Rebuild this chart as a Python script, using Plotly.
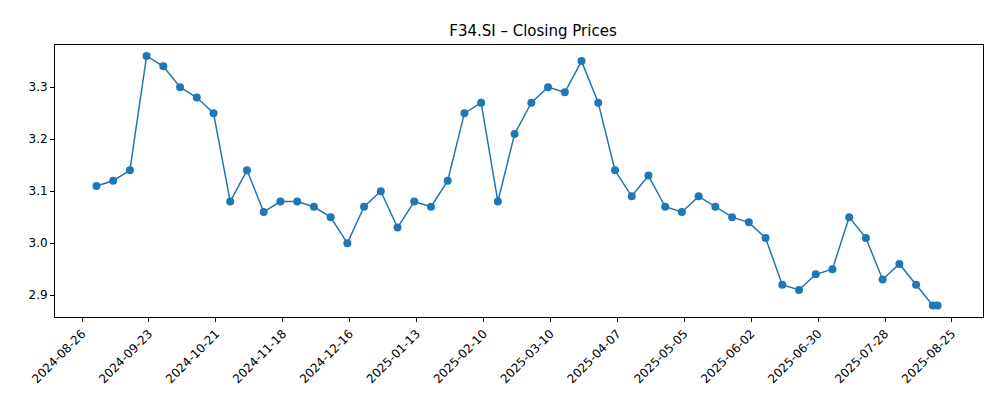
import plotly.graph_objects as go

dates = ["2024-09-01","2024-09-08","2024-09-15","2024-09-22","2024-09-29","2024-10-06","2024-10-13","2024-10-20",
"2024-10-27","2024-11-03","2024-11-10","2024-11-17","2024-11-24","2024-12-01","2024-12-08","2024-12-15",
"2024-12-22","2024-12-29","2025-01-05","2025-01-12","2025-01-19","2025-01-26","2025-02-02","2025-02-09",
"2025-02-16","2025-02-23","2025-03-02","2025-03-09","2025-03-16","2025-03-23","2025-03-30","2025-04-06",
"2025-04-13","2025-04-20","2025-04-27","2025-05-04","2025-05-11","2025-05-18","2025-05-25","2025-06-01",
"2025-06-08","2025-06-15","2025-06-22","2025-06-29","2025-07-06","2025-07-13","2025-07-20","2025-07-27",
"2025-08-03","2025-08-10","2025-08-17","2025-08-19"]
closes = [3.11,3.12,3.14,3.36,3.34,3.30,3.28,3.25,3.08,3.14,3.06,3.08,3.08,3.07,3.05,3.00,
3.07,3.10,3.03,3.08,3.07,3.12,3.25,3.27,3.08,3.21,3.27,3.30,3.29,3.35,3.27,3.14,
3.09,3.13,3.07,3.06,3.09,3.07,3.05,3.04,3.01,2.92,2.91,2.94,2.95,3.05,3.01,2.93,
2.96,2.92,2.88,2.88]
tick_dates = ["2024-08-26","2024-09-23","2024-10-21","2024-11-18","2024-12-16","2025-01-13","2025-02-10",
"2025-03-10","2025-04-07","2025-05-05","2025-06-02","2025-06-30","2025-07-28","2025-08-25"]
yticks = [2.9,3.0,3.1,3.2,3.3]

fig = go.Figure(go.Scatter(x=dates, y=closes, mode="lines+markers",
    line=dict(color="#1f77b4", width=1.5), marker=dict(color="#1f77b4", size=8)))
ax = dict(showgrid=False, showline=True, mirror=True, linecolor="black", linewidth=1,
          ticks="outside", ticklen=4, tickcolor="black", zeroline=False, automargin=False)
fig.update_layout(width=1000, height=400, plot_bgcolor="white", paper_bgcolor="white",
    margin=dict(l=47, r=25, t=37, b=91),
    font=dict(family="DejaVu Sans", size=12, color="black"),
    title=dict(text="F34.SI – Closing Prices", x=0.525, xanchor="center", y=0.943, yanchor="middle",
               font=dict(size=15)),
    xaxis=dict(ax, type="date", range=["2024-08-14 16:00", "2025-09-07"], tickvals=tick_dates,
               ticktext=tick_dates, tickangle=-45),
    yaxis=dict(ax, range=[2.858, 3.381], tickvals=yticks, ticktext=[f"{v:.1f}" for v in yticks]),
    showlegend=False)
fig.write_html("out.html")
